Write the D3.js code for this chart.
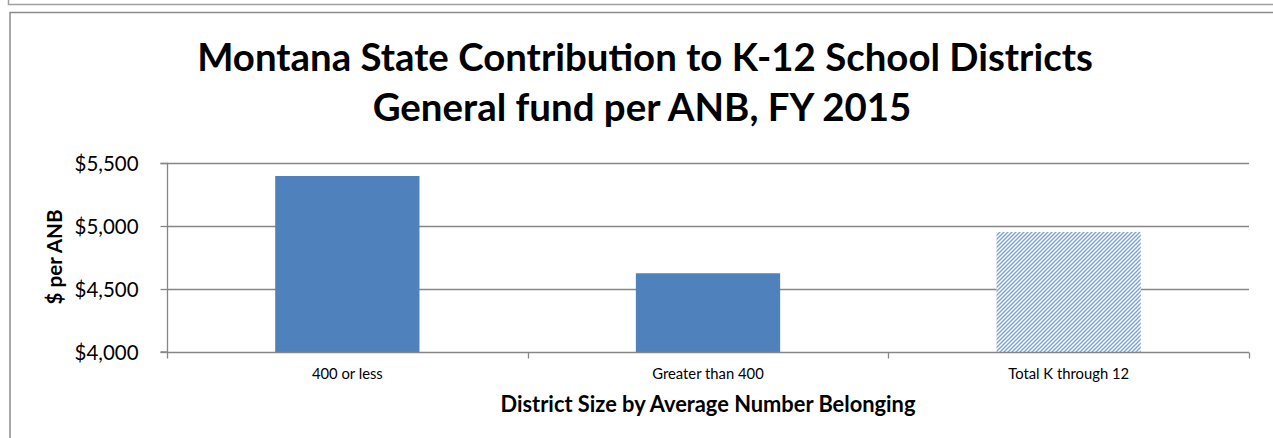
<!DOCTYPE html>
<html><head><meta charset="utf-8">
<script src="https://cdn.jsdelivr.net/npm/d3@7"></script>
<style>body{margin:0;background:#fff}svg{display:block}text{font-family:Lato,"Open Sans",sans-serif}</style>
</head><body>
<svg id="c" width="1273" height="438"></svg>
<script>
const categories = ["400 or less", "Greater than 400", "Total K through 12"];
const values = [5397, 4625, 4953];
const yTicks = [4000, 4500, 5000, 5500];
const titleLines = ["Montana State Contribution to K-12 School Districts", "General fund per ANB, FY 2015"];
const yTitle = "$ per ANB";
const xTitle = "District Size by Average Number Belonging";

const svg = d3.select("#c");
const m = {left:167, right:1249, top:163, bottom:352};
const x = d3.scaleBand().domain(categories).range([m.left, m.right]).paddingInner(0.6).paddingOuter(0.3);
const xb = d3.scaleBand().domain(categories).range([m.left, m.right]);
const y = d3.scaleLinear().domain([4000, 5500]).range([m.bottom, m.top]);

// fit a text's font size so it spans a target width
function fit(sel, target, base) {
  sel.attr("font-size", base);
  const w = sel.node().getComputedTextLength();
  sel.attr("font-size", base * target / w);
  return base * target / w;
}

// frame
svg.append("path").attr("d","M8.5,0V4.5H1273").attr("fill","none").attr("stroke","#a0a0a0").attr("stroke-width",1.5);
svg.append("path").attr("d","M10,438V12.5H1273").attr("fill","none").attr("stroke","#8c8c8c").attr("stroke-width",1.5);

const defs = svg.append("defs");
const pat = defs.append("pattern").attr("id","hatch").attr("patternUnits","userSpaceOnUse")
  .attr("width",4).attr("height",4);
pat.append("rect").attr("width",4).attr("height",4).attr("fill","#fff");
pat.append("path").attr("d","M-1,1L1,-1M0,4L4,0M3,5L5,3").attr("stroke","#7da3d3").attr("stroke-width",1.4);

// gridlines
svg.append("g").selectAll("line").data(yTicks.filter(d=>d>4000)).join("line")
  .attr("x1",m.left).attr("x2",m.right).attr("y1",d=>Math.round(y(d))+0.5).attr("y2",d=>Math.round(y(d))+0.5)
  .attr("stroke","#868686").attr("stroke-width",1.3);

// bars
svg.append("g").selectAll("rect").data(categories).join("rect")
  .attr("x",d=>x(d)).attr("width",x.bandwidth())
  .attr("y",(d,i)=>y(values[i])).attr("height",(d,i)=>y(4000)-y(values[i]))
  .attr("fill",(d,i)=>i===2?"url(#hatch)":"#4f81bd");

// y axis
const ya = d3.axisLeft(y).tickValues(yTicks).tickSize(7).tickPadding(22).tickFormat(d=>"$"+d3.format(",")(d));
const gy = svg.append("g").attr("transform",`translate(${m.left+0.5},0)`).call(ya);
gy.select(".domain").attr("stroke","#868686").attr("stroke-width",1.3).attr("d",`M-7,${m.top+0.5}H0V${m.bottom}H-7`);
gy.selectAll(".tick line").attr("stroke","#868686").attr("stroke-width",1.3);
const yl = gy.selectAll(".tick text").attr("fill","#000").attr("font-family","Lato, sans-serif").attr("dy","0.35em");
const fsY = fit(gy.select(".tick:last-of-type text"), 64, 17);
yl.attr("font-size", fsY);

// x axis
const gx = svg.append("g").attr("transform",`translate(0,${m.bottom+0.5})`);
gx.append("line").attr("x1",m.left).attr("x2",m.right).attr("stroke","#868686").attr("stroke-width",1.5);
const bounds = categories.map(c=>xb(c)).concat([m.right]);
gx.selectAll(".tk").data(bounds).join("line").attr("class","tk")
  .attr("x1",d=>Math.round(d)+0.5).attr("x2",d=>Math.round(d)+0.5).attr("y1",0).attr("y2",6)
  .attr("stroke","#868686").attr("stroke-width",1.3);
const labs = gx.selectAll(".lab").data(categories).join("text").attr("class","lab")
  .attr("x",d=>xb(d)+xb.bandwidth()/2).attr("y",26).attr("text-anchor","middle")
  .attr("fill","#000").text(d=>d);
const fsC = fit(labs.filter((d,i)=>i===0), 71, 13);
labs.attr("font-size", fsC);

// titles
const t1 = svg.append("text").attr("x",645).attr("y",71).attr("text-anchor","middle")
  .attr("font-weight","bold").attr("fill","#000").text(titleLines[0]);
fit(t1, 896, 34);
const t2 = svg.append("text").attr("x",642).attr("y",121).attr("text-anchor","middle")
  .attr("font-weight","bold").attr("fill","#000").text(titleLines[1]);
fit(t2, 539, 34);
const xt = svg.append("text").attr("x",(m.left+m.right)/2).attr("y",412).attr("text-anchor","middle")
  .attr("font-weight","bold").text(xTitle);
fit(xt, 415, 16.5);
const yt = svg.append("text").attr("transform","translate(62,257) rotate(-90)").attr("text-anchor","middle")
  .attr("font-weight","bold").text(yTitle);
fit(yt, 95, 16.5);
</script>
</body></html>
